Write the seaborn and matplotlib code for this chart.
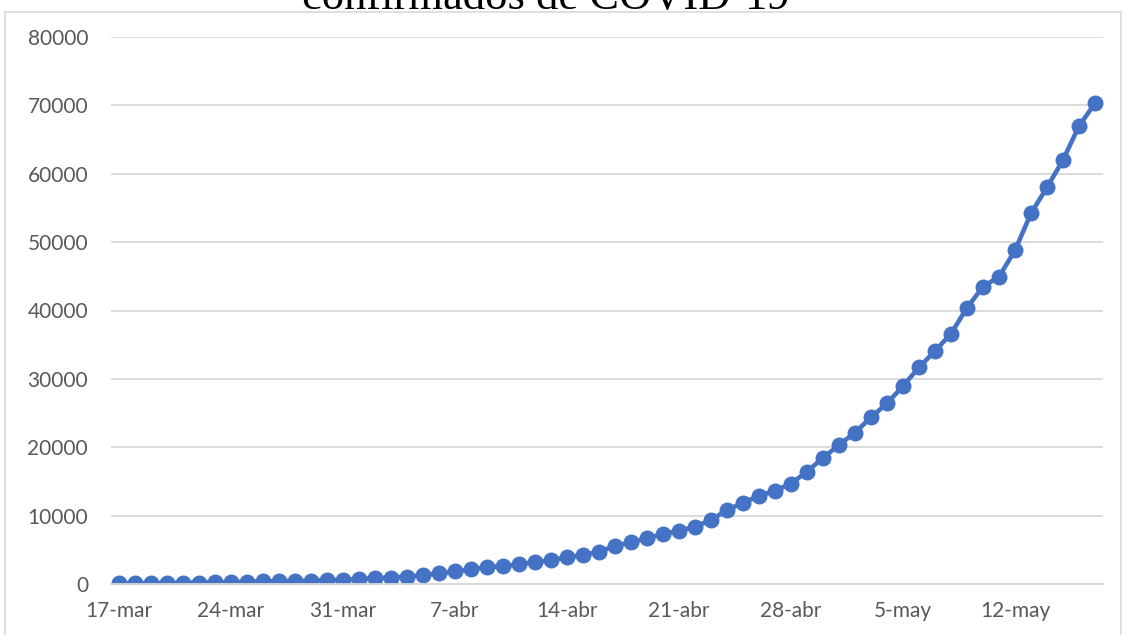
import matplotlib

matplotlib.use("Agg")
import matplotlib.pyplot as plt
import numpy as np
import pandas as pd
import seaborn as sns
from matplotlib.patches import Rectangle

TITLE = "confirmados de COVID-19"

# one value per day, 17-mar .. 17-may
DATES = [
    "17-mar", "18-mar", "19-mar", "20-mar", "21-mar", "22-mar", "23-mar",
    "24-mar", "25-mar", "26-mar", "27-mar", "28-mar", "29-mar", "30-mar",
    "31-mar", "1-abr", "2-abr", "3-abr", "4-abr", "5-abr", "6-abr",
    "7-abr", "8-abr", "9-abr", "10-abr", "11-abr", "12-abr", "13-abr",
    "14-abr", "15-abr", "16-abr", "17-abr", "18-abr", "19-abr", "20-abr",
    "21-abr", "22-abr", "23-abr", "24-abr", "25-abr", "26-abr", "27-abr",
    "28-abr", "29-abr", "30-abr", "1-may", "2-may", "3-may", "4-may",
    "5-may", "6-may", "7-may", "8-may", "9-may", "10-may", "11-may",
    "12-may", "13-may", "14-may", "15-may", "16-may", "17-may",
]
CONFIRMED = [
    80, 100, 120, 150, 180, 210, 250,
    290, 330, 370, 410, 450, 500, 560,
    640, 740, 840, 950, 1080, 1280, 1550,
    1850, 2150, 2470, 2630, 2880, 3220, 3460,
    3900, 4240, 4730, 5560, 6090, 6680, 7310,
    7780, 8380, 9360, 10820, 11890, 12870, 13650,
    14680, 16430, 18450, 20330, 22130, 24380, 26420,
    28960, 31690, 34080, 36600, 40400, 43480, 44940,
    48800, 54210, 58010, 62010, 66980, 70300,
]
Y_TICKS = [0, 10000, 20000, 30000, 40000, 50000, 60000, 70000, 80000]
LABEL_EVERY = 7

LINE_COLOR = "#4472C4"
TEXT_COLOR = "#595959"
GRID_COLOR = "#D9D9D9"


def main() -> None:
    sns.set_style("white")
    plt.rcParams["font.family"] = ["Lato", "DejaVu Sans"]

    df = pd.DataFrame({"day": np.arange(len(DATES)), "confirmed": CONFIRMED})

    fig = plt.figure(figsize=(11.26, 6.35), dpi=100)
    fig.patches.append(
        Rectangle((5 / 1126, -0.05), 1116 / 1126, 1.05 - 12 / 635,
                  transform=fig.transFigure, fill=False,
                  edgecolor="#D9D9D9", linewidth=1.2)
    )
    ax = fig.add_axes([111 / 1126, 51 / 635, 992 / 1126, 547 / 635])

    sns.lineplot(
        data=df, x="day", y="confirmed", ax=ax,
        color=LINE_COLOR, linewidth=3.3,
        marker="o", markersize=11.5, markeredgewidth=0,
    )

    ax.set_xlim(-0.5, len(DATES) - 0.5)
    ax.set_ylim(0, 80000)
    ax.set_yticks(Y_TICKS)
    ax.set_yticklabels([str(v) for v in Y_TICKS])
    ax.yaxis.grid(True, color=GRID_COLOR, linewidth=1.3)
    ax.set_axisbelow(True)

    # tick marks sit between day slots, labels centered on the day
    label_idx = list(range(0, len(DATES), LABEL_EVERY))
    ax.set_xticks([i - 0.5 for i in label_idx])
    ax.set_xticklabels([])
    ax.set_xticks(label_idx, minor=True)
    ax.set_xticklabels([DATES[i] for i in label_idx], minor=True)
    ax.tick_params(axis="x", which="major", length=6, width=1.2,
                   color=GRID_COLOR, direction="out")
    ax.tick_params(axis="x", which="minor", length=0, pad=12,
                   labelsize=15, labelcolor=TEXT_COLOR)
    ax.tick_params(axis="y", length=0, pad=16.5, labelsize=15,
                   labelcolor=TEXT_COLOR)

    for side in ["top", "right", "left"]:
        ax.spines[side].set_visible(False)
    ax.spines["bottom"].set_color(GRID_COLOR)
    ax.spines["bottom"].set_linewidth(1.3)
    ax.set_xlabel("")
    ax.set_ylabel("")

    fig.text(0.485, 1 - 9 / 635, TITLE, ha="center", va="baseline",
             fontsize=32, family="Liberation Serif", color="black")

    fig.savefig("out.png", dpi=100)
    plt.close(fig)


if __name__ == "__main__":
    main()
